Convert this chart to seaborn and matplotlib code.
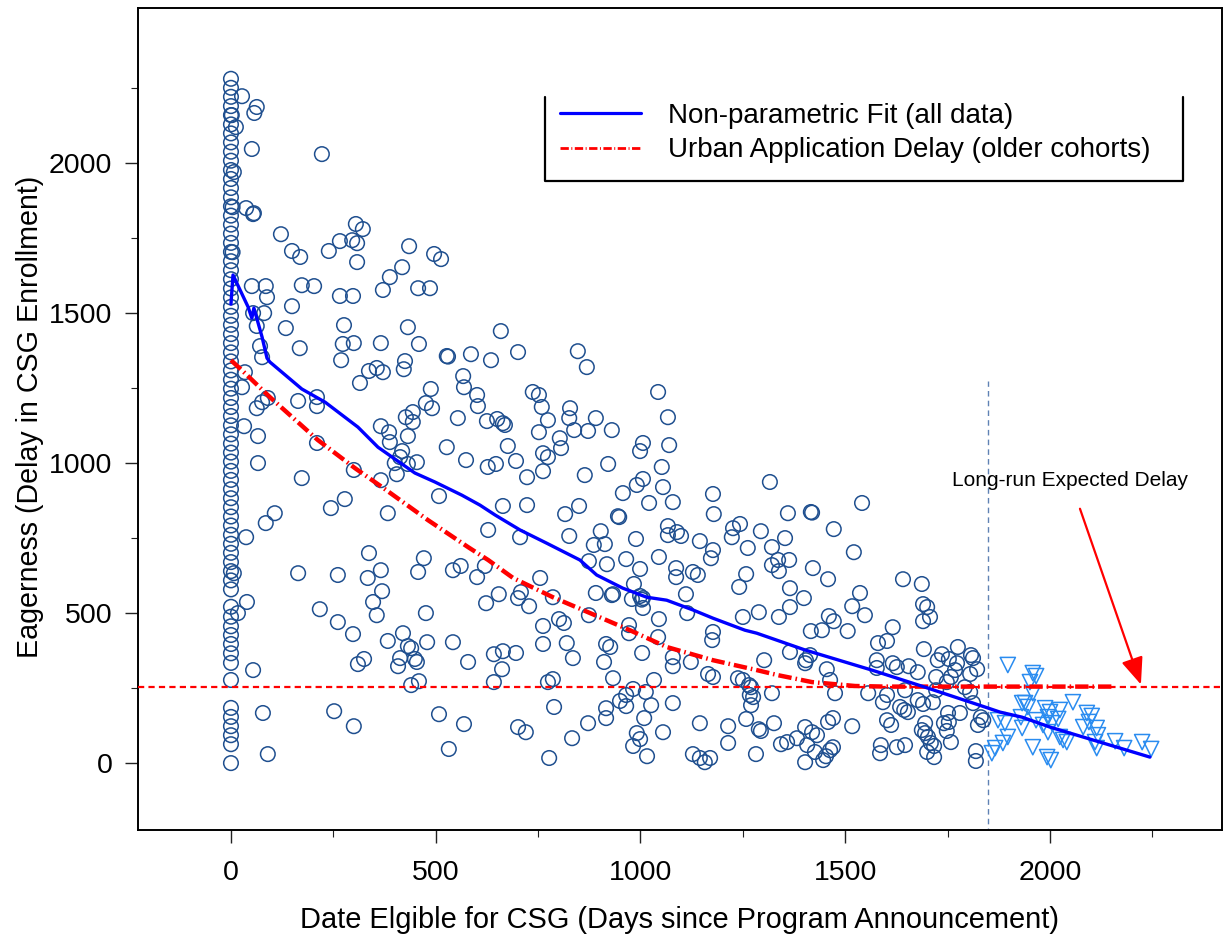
import numpy as np
import pandas as pd
import matplotlib
matplotlib.use("Agg")
import matplotlib.pyplot as plt
from matplotlib.lines import Line2D
import seaborn as sns

# ---------------- data ----------------
# cohort eligible on day 0 (vertical stack of circles)
col0_y = [0, 63, 93, 123, 154, 184, 277, 334, 366, 397, 427, 456, 488, 521,
          579, 609, 640, 670, 701, 731, 761, 792, 822, 853, 883, 913, 944, 974,
          1005, 1035, 1065, 1096, 1126, 1157, 1187, 1217, 1248, 1278, 1309, 1339,
          1369, 1400, 1430, 1461, 1491, 1521, 1552, 1582, 1613, 1643, 1673, 1704,
          1734, 1765, 1795, 1825, 1856, 1886, 1917, 1947, 1977, 2008, 2038, 2069,
          2099, 2129, 2160, 2190, 2221, 2251, 2281]

# scattered circles (days, delay), grouped by region of the plot
pts_upper_left = [
    (27, 2223), (63, 2187), (57, 2167), (2, 2160), (12, 2120), (51, 2047), (222, 2030),
    (7, 1970), (4, 1853), (37, 1850), (54, 1830), (56, 1833), (122, 1763), (149, 1707),
    (169, 1687), (239, 1707), (266, 1740), (296, 1743), (308, 1733), (305, 1797),
    (322, 1780), (308, 1670), (435, 1723), (496, 1697), (513, 1680), (418, 1653),
    (388, 1620), (371, 1577), (457, 1583), (486, 1583), (51, 1590), (85, 1590),
    (88, 1553), (173, 1593), (203, 1590), (266, 1557), (298, 1557), (149, 1523),
    (54, 1500), (81, 1500), (63, 1457), (134, 1450), (276, 1460), (432, 1453), (4, 1703)]

pts_upper_mid = [
    (659, 1440), (635, 1343), (701, 1370), (847, 1373), (869, 1320), (737, 1237),
    (752, 1227), (759, 1187), (828, 1183), (826, 1150), (891, 1150), (1043, 1237),
    (1067, 1153), (625, 1140), (650, 1147), (664, 1133), (669, 1127), (774, 1143),
    (752, 1103), (838, 1110), (872, 1107), (930, 1110), (803, 1083), (806, 1050),
    (676, 1057), (1006, 1067), (999, 1040), (1070, 1060), (762, 1033), (774, 1020),
    (696, 1007), (921, 997), (1052, 987), (627, 987), (647, 997), (723, 953),
    (762, 973), (864, 960), (1006, 947)]

pts_mid_left = [
    (71, 1390), (76, 1353), (168, 1383), (273, 1397), (300, 1400), (366, 1400),
    (459, 1397), (269, 1343), (527, 1357), (530, 1355), (586, 1363), (425, 1340),
    (422, 1313), (337, 1307), (356, 1317), (371, 1303), (315, 1267), (34, 1303),
    (27, 1253), (567, 1290), (569, 1253), (488, 1247), (601, 1227), (603, 1190),
    (164, 1207), (210, 1220), (210, 1190), (90, 1217), (76, 1203), (63, 1183),
    (476, 1200), (491, 1183), (444, 1170), (427, 1153), (444, 1137), (554, 1150),
    (32, 1123), (366, 1123), (386, 1103), (388, 1070), (432, 1090), (66, 1090),
    (210, 1067), (527, 1053), (418, 1040), (413, 1020), (400, 1000), (432, 997),
    (454, 1003), (574, 1010), (66, 1000), (405, 963), (300, 977), (366, 943),
    (173, 950), (508, 890), (278, 880), (244, 850), (383, 833), (107, 833), (85, 800),
    (37, 753), (628, 777), (337, 700), (471, 683), (164, 633), (261, 627), (334, 617),
    (366, 643), (457, 637), (542, 643), (561, 657), (620, 657), (601, 620), (7, 633)]

pts_low_left = [
    (39, 537), (17, 500), (217, 513), (261, 470), (369, 573), (347, 537), (356, 493),
    (476, 500), (623, 533), (298, 430), (383, 407), (420, 433), (432, 390), (440, 383),
    (479, 403), (542, 403), (325, 347), (310, 330), (413, 350), (408, 323), (449, 347),
    (454, 337), (579, 337), (642, 363), (54, 310), (440, 260), (459, 273), (642, 270),
    (78, 167), (252, 173), (300, 123), (508, 163), (569, 130), (532, 47), (90, 30)]

pts_low_mid = [
    (957, 900), (991, 927), (1055, 920), (1021, 867), (1079, 870), (1177, 897),
    (1179, 830), (664, 857), (723, 860), (816, 830), (850, 857), (948, 820), (945, 823),
    (706, 753), (826, 757), (903, 773), (886, 727), (913, 730), (989, 747), (1067, 790),
    (1067, 760), (1089, 770), (1099, 757), (1145, 740), (1226, 783), (1243, 797),
    (1223, 753), (1177, 710), (1172, 683), (965, 680), (1045, 687), (1087, 650),
    (1087, 620), (1128, 637), (1140, 627), (1258, 630), (1241, 587), (1289, 503),
    (1250, 487), (1177, 437), (1175, 410), (1111, 563), (1114, 500), (984, 597),
    (999, 557), (1006, 550), (1003, 545), (979, 547), (891, 567), (930, 560), (933, 563),
    (874, 673), (918, 663), (999, 647), (1045, 480), (972, 460), (972, 433), (1043, 420),
    (1006, 517), (1004, 367), (654, 563), (701, 550), (708, 570), (728, 523), (755, 617),
    (786, 553), (762, 457), (801, 480), (813, 467), (874, 493), (762, 397), (820, 400),
    (835, 350), (916, 397), (926, 387), (911, 337), (933, 283), (1033, 277), (1079, 353),
    (1079, 323), (1123, 337), (1165, 297), (1177, 287), (1238, 283), (1250, 277),
    (664, 373), (696, 367), (662, 313), (774, 270), (786, 280), (1265, 260), (1267, 227),
    (1275, 220), (1270, 193), (1258, 147), (1289, 113), (1214, 123), (1214, 67),
    (1282, 30), (789, 187), (965, 227), (982, 247), (1013, 237), (950, 207), (965, 190),
    (916, 183), (916, 150), (1026, 193), (1079, 200), (1009, 150), (872, 133), (833, 83),
    (701, 120), (720, 103), (1055, 103), (1145, 133), (991, 100), (999, 80), (982, 57),
    (1016, 23), (777, 17), (1128, 30), (1145, 17), (1157, 3), (1170, 17)]

pts_right = [
    (1316, 937), (1360, 833), (1416, 837), (1419, 835), (1541, 867), (1294, 773),
    (1353, 750), (1472, 780), (1262, 717), (1321, 720), (1336, 677), (1363, 677),
    (1321, 660), (1338, 640), (1421, 650), (1521, 703), (1458, 613), (1641, 613),
    (1687, 597), (1365, 583), (1399, 550), (1536, 567), (1517, 523), (1548, 493),
    (1690, 530), (1700, 520), (1690, 473), (1707, 487), (1365, 520), (1338, 487),
    (1460, 490), (1472, 473), (1416, 440), (1443, 443), (1506, 440), (1616, 453),
    (1580, 400), (1602, 407), (1692, 380), (1736, 363), (1775, 387), (1365, 370),
    (1414, 360), (1404, 343), (1402, 333), (1302, 343), (1455, 313), (1463, 277),
    (1577, 343), (1577, 317), (1616, 333), (1626, 320), (1655, 323), (1677, 303),
    (1726, 343), (1753, 347), (1773, 333), (1768, 310), (1758, 287), (1748, 270),
    (1722, 287), (1807, 360), (1812, 350), (1822, 313), (1805, 297), (1792, 253),
    (1805, 237), (1722, 243), (1646, 243), (1714, 203), (1677, 210), (1690, 197),
    (1812, 200), (1780, 167), (1831, 153), (1837, 143), (1824, 127), (1819, 40),
    (1819, 7), (1751, 167), (1753, 137), (1748, 107), (1758, 70), (1741, 133),
    (1695, 133), (1687, 110), (1695, 100), (1702, 87), (1709, 67), (1717, 57),
    (1700, 37), (1717, 20), (1646, 60), (1626, 53), (1602, 143), (1612, 127),
    (1592, 203), (1602, 227), (1634, 187), (1644, 177), (1653, 170), (1587, 60),
    (1556, 233), (1475, 233), (1458, 137), (1470, 150), (1517, 123), (1402, 120),
    (1419, 103), (1431, 93), (1407, 60), (1426, 37), (1453, 23), (1463, 43),
    (1470, 53), (1446, 10), (1382, 83), (1358, 70), (1343, 63), (1402, 3),
    (1326, 133), (1294, 107), (1270, 253), (1321, 233), (1585, 33)]

# recent cohorts (triangles)
tri_pts = [
    (1897, 327), (1873, 143), (1890, 133), (1897, 87), (1885, 67), (1866, 50),
    (1858, 33), (1932, 200), (1932, 117), (1958, 300), (1966, 290), (1951, 270),
    (1958, 233), (1939, 200), (1946, 187), (2056, 203), (1988, 183), (2000, 170),
    (2024, 177), (1995, 153), (2020, 147), (2005, 133), (1929, 153), (1966, 143),
    (1983, 127), (1995, 103), (2024, 87), (2032, 77), (2041, 70), (1958, 53),
    (1993, 20), (2002, 10), (2081, 120), (2090, 167), (2102, 157), (2095, 137),
    (2114, 117), (2117, 93), (2110, 70), (2114, 50), (2159, 73), (2181, 50),
    (2225, 70), (2247, 47)]

# non-parametric fit
fit_x = [0, 5, 42, 51, 56, 63, 76, 88, 95, 173, 230, 310, 359, 449, 498, 564, 608,
         645, 706, 771, 852, 893, 957, 1015, 1064, 1129, 1177, 1255, 1284, 1402,
         1565, 1695, 1841, 1878, 1932, 2000, 2122, 2244]
fit_y = [1530, 1627, 1520, 1483, 1517, 1483, 1420, 1350, 1337, 1247, 1203, 1120,
         1053, 967, 937, 893, 860, 827, 777, 733, 677, 627, 583, 553, 543, 510, 483,
         443, 433, 377, 310, 253, 187, 170, 153, 120, 70, 20]

# urban application delay curve
urban_x = [0, 34, 95, 212, 303, 369, 481, 579, 628, 689, 786, 877, 974, 1064, 1177,
           1284, 1336, 1419, 1524, 1600, 1850, 2150]
urban_y = [1343, 1300, 1220, 1077, 983, 920, 810, 720, 677, 617, 553, 500, 443, 387,
           343, 310, 293, 270, 257, 255, 255, 255]

long_run = 255
cutoff_day = 1848

xticks = [0, 500, 1000, 1500, 2000]
yticks = [0, 500, 1000, 1500, 2000]

# ---------------- build frames ----------------
circ = (pts_upper_left + pts_upper_mid + pts_mid_left + pts_low_left +
        pts_low_mid + pts_right)
circ_df = pd.DataFrame(circ, columns=["day", "delay"])
col_df = pd.DataFrame({"day": [0] * len(col0_y), "delay": col0_y})
circ_df = pd.concat([col_df, circ_df], ignore_index=True)
tri_df = pd.DataFrame(tri_pts, columns=["day", "delay"])
fit_df = pd.DataFrame({"day": fit_x, "delay": fit_y})
urb_df = pd.DataFrame({"day": urban_x, "delay": urban_y})

# ---------------- style ----------------
sns.set_theme(style="white")
plt.rcParams["font.family"] = ["Liberation Sans", "DejaVu Sans"]
plt.rcParams["axes.linewidth"] = 1.4
plt.rcParams["text.color"] = "black"
plt.rcParams["axes.labelcolor"] = "black"
plt.rcParams["xtick.color"] = "black"
plt.rcParams["ytick.color"] = "black"

fig = plt.figure(figsize=(12.26, 9.38), dpi=100)
ax = fig.add_axes([138 / 1226, 1 - 830 / 938, (1222 - 138) / 1226, (830 - 8) / 938])

circ_col = "#1f4f8f"
tri_col = "#2a8cf0"

sns.scatterplot(data=circ_df, x="day", y="delay", marker="o", s=110,
                facecolor="none", edgecolor=circ_col, linewidth=1.1, ax=ax,
                zorder=3, legend=False)
sns.scatterplot(data=tri_df, x="day", y="delay", marker="v", s=120,
                facecolor="none", edgecolor=tri_col, linewidth=1.1, ax=ax,
                zorder=3, legend=False)

# long-run horizontal line
ax.axhline(long_run, color="red", lw=1.6, dashes=(2.8, 1.9), zorder=4)
# cutoff vertical line
ax.plot([cutoff_day, cutoff_day], [-300, 1275], color="#5f82b4", lw=1.0,
        dashes=(4, 3), zorder=2)

sns.lineplot(data=urb_df, x="day", y="delay", color="red", lw=3.2, ax=ax,
             sort=False, estimator=None, zorder=5)
ax.lines[-1].set_dashes((3.0, 0.9, 0.35, 0.9))
sns.lineplot(data=fit_df, x="day", y="delay", color="#0000ff", lw=2.4, ax=ax,
             sort=False, estimator=None, zorder=6)

ax.set_xlim(-227, 2420)
ax.set_ylim(-223, 2517)

ax.set_xticks(xticks)
ax.set_yticks(yticks)
ax.set_xticks([250, 750, 1250, 1750, 2250], minor=True)
ax.set_yticks([250, 750, 1250, 1750, 2250], minor=True)
ax.tick_params(axis="both", which="major", direction="out", length=9.5, width=1.0,
               labelsize=20.5, color="#222222", labelcolor="black")
ax.tick_params(axis="both", which="minor", direction="out", length=5, width=0.8,
               color="#222222")
ax.tick_params(axis="x", which="major", pad=12)
ax.tick_params(axis="y", which="major", pad=9)
ax.tick_params(bottom=True, left=True, which="both")
for s in ax.spines.values():
    s.set_color("black")

ax.set_xlabel("Date Elgible for CSG (Days since Program Announcement)",
              fontsize=20.9, color="black")
ax.set_ylabel("Eagerness (Delay in CSG Enrollment)", fontsize=20.6, color="black")
ax.xaxis.set_label_coords(0.5, -0.092)
ax.yaxis.set_label_coords(-0.087, 0.502)

# legend
handles = [Line2D([], [], color="#0000ff", lw=2.3),
           Line2D([], [], color="red", lw=2.0, dashes=(3.0, 0.9, 0.35, 0.9))]
leg = ax.legend(handles, ["Non-parametric Fit (all data)",
                          "Urban Application Delay (older cohorts)"],
                loc="upper left", bbox_to_anchor=((560 - 138) / 1084, (830 - 103) / 822),
                frameon=False, fontsize=20, handlelength=2.9, handletextpad=1.0,
                borderpad=0, borderaxespad=0, labelspacing=0.3)
for t in leg.get_texts():
    t.set_color("black")
lx0, lx1 = (545 - 138) / 1084, (1183 - 138) / 1084
ly0, ly1 = (830 - 181) / 822, (830 - 97) / 822
ax.plot([lx0, lx0, lx1, lx1], [ly1, ly0, ly0, ly1], transform=ax.transAxes,
        color="black", lw=1.6, clip_on=False, zorder=7)

ax.annotate("Long-run Expected Delay", xy=(2222, 262), xytext=(2049, 943),
            ha="center", va="center", fontsize=15, color="black",
            arrowprops=dict(arrowstyle="-|>,head_length=1.1,head_width=0.45",
                            color="red", lw=1.6, shrinkA=12, shrinkB=0))

fig.savefig("out.png", dpi=100)
